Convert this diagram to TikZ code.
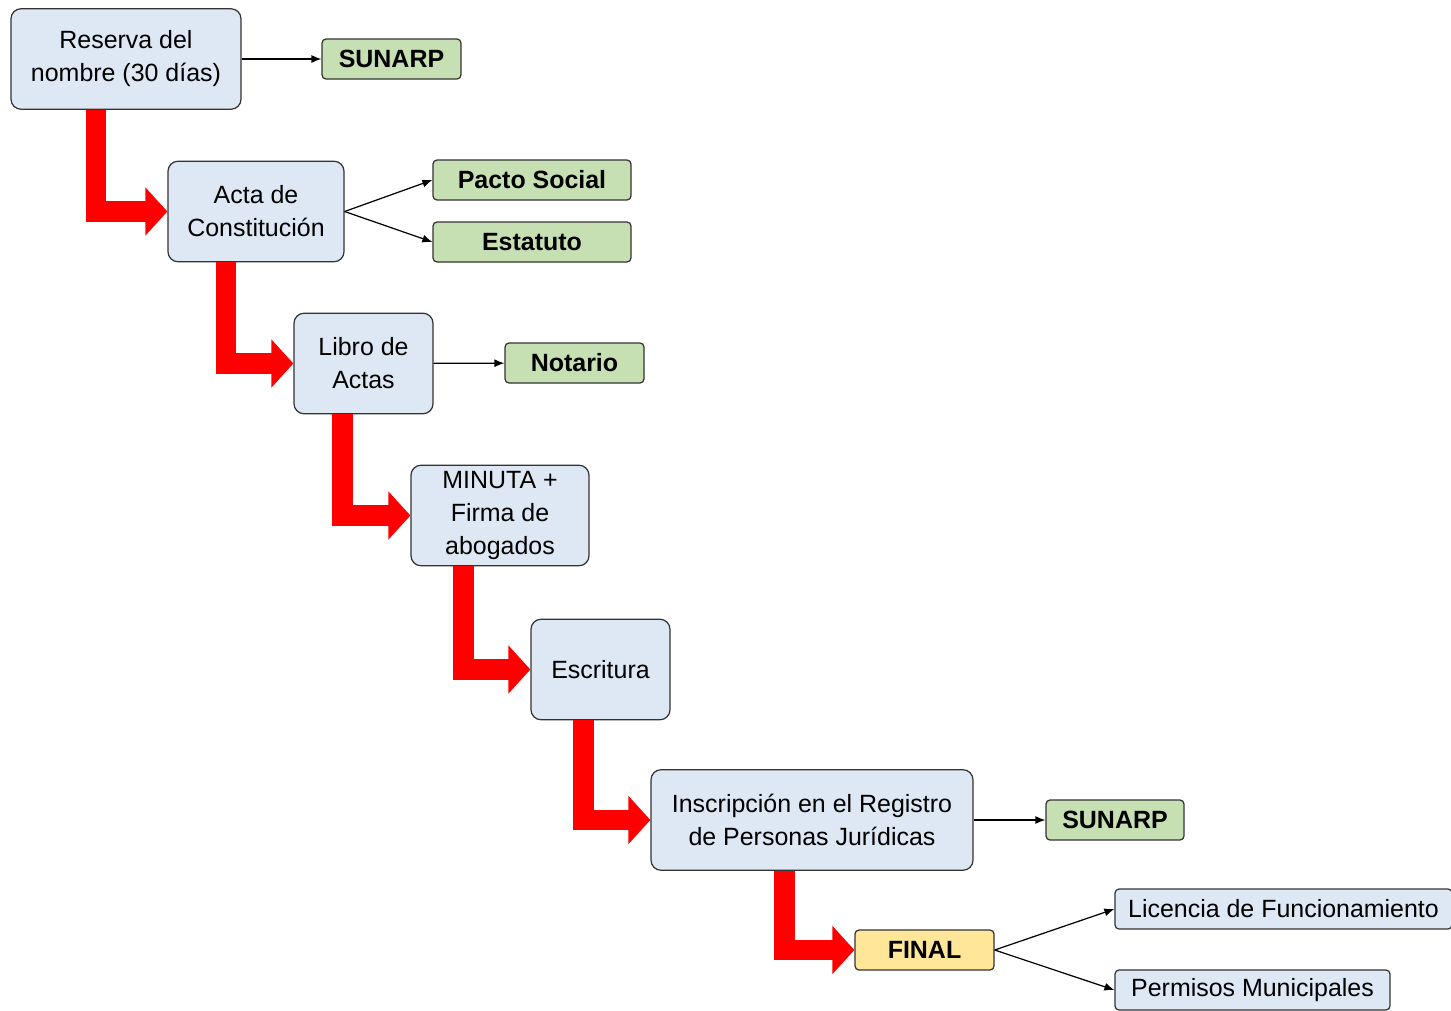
\documentclass[tikz,border=0pt]{standalone}
\usepackage{fontspec}
\setmainfont{Liberation Sans}
\usetikzlibrary{arrows.meta, positioning}
\definecolor{boxblue}{HTML}{DEE8F4}
\definecolor{boxgreen}{HTML}{C6E0B4}
\definecolor{boxyellow}{HTML}{FFE699}
\definecolor{boxline}{HTML}{333333}
\tikzstyle{block}=[draw=boxline, line width=0.7pt, fill=boxblue, rounded corners=0.2cm,
  align=center, inner sep=0pt, minimum height=2.01cm]
\tikzstyle{tag}=[draw=boxline, line width=0.7pt, fill=boxgreen, rounded corners=0.08cm,
  inner sep=0pt, minimum height=0.8cm, font=\bfseries]
\tikzstyle{final}=[tag, fill=boxyellow]
\tikzstyle{extra}=[tag, fill=boxblue, font=\normalfont]
\tikzstyle{link}=[draw=black, line width=0.7pt, -{Latex[length=2mm,width=1.6mm]}]
\tikzstyle{bigarrow}=[draw=red, line width=0.41cm, line join=miter,
  -{Triangle[length=0.44cm,width=0.94cm]}]

\begin{document}
\fontsize{14.2}{18.8}\selectfont
\begin{tikzpicture}
    \useasboundingbox (0,0) rectangle (29.02,-20.2);
    % main steps
    \node[block, minimum width=4.6cm] (reserva) at (2.52,-1.18) {Reserva del\\nombre (30 días)};
    \node[block, minimum width=3.52cm] (acta) at (5.12,-4.23) {Acta de\\Constitución};
    \node[block, minimum width=2.78cm] (libro) at (7.27,-7.27) {Libro de\\Actas};
    \node[block, minimum width=3.56cm] (minuta) at (10.0,-10.31) {MINUTA +\\Firma de\\abogados};
    \node[block, minimum width=2.78cm] (escritura) at (12.01,-13.39) {Escritura};
    \node[block, minimum width=6.44cm] (inscripcion) at (16.24,-16.4) {Inscripción en el Registro\\de Personas Jurídicas};
    \node[final, minimum width=2.78cm] (final) at (18.49,-19.0) {FINAL};
    % side notes
    \node[tag, minimum width=2.78cm] (sunarpa) at (7.83,-1.18) {SUNARP};
    \node[tag, minimum width=3.96cm] (pacto) at (10.64,-3.6) {Pacto Social};
    \node[tag, minimum width=3.96cm] (estatuto) at (10.64,-4.84) {Estatuto};
    \node[tag, minimum width=2.78cm] (notario) at (11.49,-7.26) {Notario};
    \node[tag, minimum width=2.76cm] (sunarpb) at (22.3,-16.4) {SUNARP};
    \node[extra, minimum width=6.74cm] (licencia) at (25.67,-18.18) {Licencia de Funcionamiento};
    \node[extra, minimum width=5.5cm] (permisos) at (25.05,-19.8) {Permisos Municipales};

    \foreach \a/\b/\d in {reserva/acta/1.71, acta/libro/1.17, libro/minuta/0.98,
        minuta/escritura/1.06, escritura/inscripcion/1.06, inscripcion/final/2.68}
        \draw[bigarrow] ([xshift=\d cm]\a.south west) |- (\b.west);

    \draw[link] (reserva) -- (sunarpa);
    \draw[link] (acta.east) -- (pacto.west);
    \draw[link] (acta.east) -- (estatuto.west);
    \draw[link] (libro) -- (notario);
    \draw[link] (inscripcion) -- (sunarpb);
    \draw[link] (final.east) -- (licencia.west);
    \draw[link] (final.east) -- (permisos.west);
\end{tikzpicture}
\end{document}
